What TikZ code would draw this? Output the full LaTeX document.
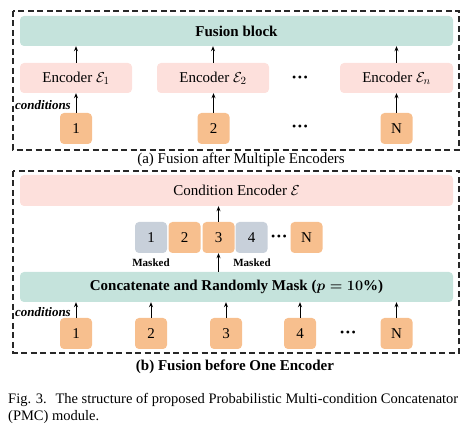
\documentclass[tikz,border=0pt]{standalone}
\usepackage{fontspec}
\setmainfont{Liberation Serif}
\usetikzlibrary{arrows.meta}
\definecolor{tealc}{RGB}{197,227,220}
\definecolor{pinkc}{RGB}{253,224,220}
\definecolor{orng}{RGB}{247,191,142}
\definecolor{grayc}{RGB}{200,208,218}
\definecolor{dashc}{RGB}{40,40,40}
\newcommand{\fs}[1]{\fontsize{#1}{#1}\selectfont}
\newcommand{\mydots}{\textbullet\hspace{1.6pt}\textbullet\hspace{1.6pt}\textbullet}
\tikzset{
  outerbox/.style={draw=dashc, line width=1.3pt, dash pattern=on 6pt off 3.5pt},
  widebox/.style={rounded corners=4pt, minimum width=433pt, minimum height=30pt, inner sep=0pt},
  encbox/.style={fill=pinkc, rounded corners=4pt, minimum width=112pt, minimum height=30pt, inner sep=0pt, font=\fs{15}},
  condbox/.style={fill=orng, rounded corners=4pt, minimum width=32pt, minimum height=31pt, inner sep=0pt, font=\fs{15}},
  maskbox/.style={fill=grayc, rounded corners=4pt, minimum width=32pt, minimum height=31pt, inner sep=0pt, font=\fs{15}},
  arr/.style={-{Stealth[length=5pt,width=4pt]}, line width=0.8pt, black},
  condlabel/.style={font=\fs{13}\bfseries\itshape, anchor=east, inner sep=0pt},
  masklabel/.style={font=\fs{11}\bfseries, inner sep=0pt},
  dotsnode/.style={font=\fs{12}, inner sep=0pt}
}
\begin{document}
\begin{tikzpicture}[x=1pt,y=-1pt]
\useasboundingbox (0,0) rectangle (469,430);
% (a)
\draw[outerbox] (13,11) rectangle (459,150);
\node[widebox, fill=tealc, font=\fs{15}\bfseries] (fusion) at (236.5,31) {Fusion block};
\node[encbox] (enc1) at (76,78) {Encoder $\mathcal{E}_1$};
\node[encbox] (enc2) at (213,78) {Encoder $\mathcal{E}_2$};
\node[encbox, minimum width=113pt] (encn) at (396.5,78) {Encoder $\mathcal{E}_n$};
\node[dotsnode] (dotsa1) at (300,79) {\mydots};
\node[condbox] (ca1) at (76,128.5) {1};
\node[condbox] (ca2) at (213.5,128.5) {2};
\node[condbox] (caN) at (396.5,128.5) {N};
\node[dotsnode] (dotsa2) at (300,128) {\mydots};
\node[condlabel] (conda) at (71,105) {conditions};
\draw[arr] (enc1) -- (enc1 |- fusion.south);
\draw[arr] (enc2) -- (enc2 |- fusion.south);
\draw[arr] (encn) -- (encn |- fusion.south);
\draw[arr] (ca1) -- (ca1 |- enc1.south);
\draw[arr] (ca2) -- (ca2 |- enc2.south);
\draw[arr] (caN) -- (caN |- encn.south);
\node[font=\fs{15}, inner sep=0pt] (capa) at (241,160) {(a) Fusion after Multiple Encoders};
% (b)
\draw[outerbox] (13,171) rectangle (459,353);
\node[widebox, fill=pinkc, font=\fs{15}, minimum height=31pt] (condenc) at (236.5,190.5) {Condition Encoder $\mathcal{E}$};
\node[maskbox] (m1) at (151,237.5) {1};
\node[condbox] (m2) at (184.5,237.5) {2};
\node[condbox] (m3) at (218.5,237.5) {3};
\node[maskbox] (m4) at (251.5,237.5) {4};
\node[dotsnode] (dotsm) at (279,237.5) {\mydots};
\node[condbox] (mN) at (306.5,237.5) {N};
\node[masklabel] (ml1) at (151,263) {Masked};
\node[masklabel] (ml4) at (252,263) {Masked};
\node[widebox, fill=tealc, font=\fs{15}\bfseries\boldmath] (concat) at (236.5,287) {Concatenate and Randomly Mask ($p=10\%$)};
\node[condbox] (b1) at (76,333.5) {1};
\node[condbox] (b2) at (151,333.5) {2};
\node[condbox] (b3) at (226,333.5) {3};
\node[condbox] (b4) at (300,333.5) {4};
\node[dotsnode] (dotsb) at (348,333.5) {\mydots};
\node[condbox] (bN) at (396.5,333.5) {N};
\node[condlabel] (condb) at (71,312) {conditions};
\draw[arr] (m3) -- (m3 |- condenc.south);
\draw[arr] (concat.north -| m3) -- (m3);
\draw[arr] (b1) -- (b1 |- concat.south);
\draw[arr] (b2) -- (b2 |- concat.south);
\draw[arr] (b3) -- (b3 |- concat.south);
\draw[arr] (b4) -- (b4 |- concat.south);
\draw[arr] (bN) -- (bN |- concat.south);
\node[font=\fs{15}\bfseries, inner sep=0pt] (capb) at (235,367) {(b) Fusion before One Encoder};
% figure caption
\node[font=\fs{14.5}, anchor=base west, inner sep=0pt] (fig1) at (8,404) {Fig. 3.\hspace{0.6em}The structure of proposed Probabilistic Multi-condition Concatenator};
\node[font=\fs{14.5}, anchor=base west, inner sep=0pt] (fig2) at (8,421) {(PMC) module.};
\end{tikzpicture}
\end{document}
